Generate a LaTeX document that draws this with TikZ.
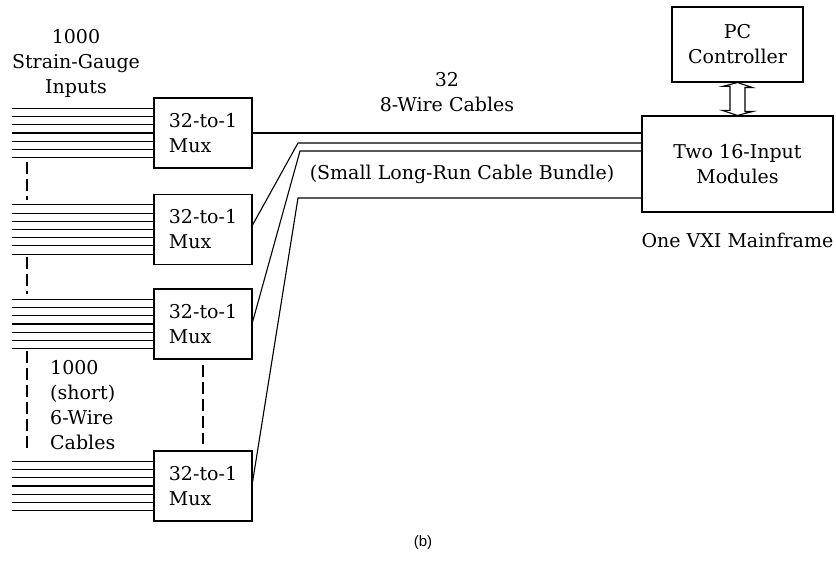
\documentclass[tikz,border=0pt]{standalone}
\usepackage{fontspec}
\setmainfont{DejaVu Serif}
\newfontfamily\capfont{Liberation Sans}
\usetikzlibrary{calc}

\tikzset{
  txt/.style={font=\fontsize{19}{25}\selectfont, inner sep=0pt},
  box/.style={draw, line width=1.1pt, inner sep=0pt, txt},
  muxbox/.style={box, minimum width=98pt, minimum height=70pt, align=left},
  wire/.style={line width=1.1pt},
  dashline/.style={line width=1.1pt, dash pattern=on 12pt off 5pt},
}

\begin{document}
\begin{tikzpicture}[x=1pt, y=-1pt]
\useasboundingbox (0,0) rectangle (836,564);

% multiplexers
\node[muxbox] (m1) at (203,133)   {32-to-1\\Mux};
\node[muxbox] (m2) at (203,229.5) {32-to-1\\Mux};
\node[muxbox] (m3) at (203,324)   {32-to-1\\Mux};
\node[muxbox] (m4) at (203,486)   {32-to-1\\Mux};

% mainframe and controller
\node[box, minimum width=191pt, minimum height=96pt, align=center] (mods) at (737.5,164) {Two 16-Input\\Modules};
\node[box, minimum width=131pt, minimum height=75pt, align=center] (pc) at (737.5,44.5) {PC\\Controller};
\node[txt] (vxi) at (737.5,240) {One VXI Mainframe};

% text labels
\node[txt, align=center] (sg) at (76,63) {1000\\Strain-Gauge\\Inputs};
\node[txt, align=left, anchor=west] (sh) at (50,405.5) {1000\\(short)\\6-Wire\\Cables};
\node[txt, align=center] (cb) at (447,92) {32\\8-Wire Cables};
\node[txt] (bund) at (462,174) {(Small Long-Run Cable Bundle)};
\node[font=\capfont\fontsize{15}{17}\selectfont, inner sep=0pt] (cap) at (423,543) {(b)};

% strain-gauge input wires, seven per mux
\foreach \m in {m1,m2,m3,m4}{
  \foreach \k in {-3,...,3}{
    \draw[wire] ($(\m.west)+(-141,8.2*\k)$) -- ($(\m.west)+(0,8.2*\k)$);
  }
}

% continuation marks
\draw[dashline] (27,162) -- (27,200);
\draw[dashline] (27,257) -- (27,294);
\draw[dashline] (27,351) -- (27,451);
\draw[dashline] (203,365) -- (203,444);

% long-run cable bundle
\coordinate (b2) at (298,143);
\coordinate (b3) at (300,151);
\coordinate (b4) at (298,198);
\draw[wire] (m1.east) -- (m1.east -| mods.west);
\draw[wire] ($(m2.east)+(0,-4.5)$) -- (b2) -- (b2 -| mods.west);
\draw[wire] ($(m3.east)+(0,-2)$) -- (b3) -- (b3 -| mods.west);
\draw[wire] ($(m4.east)+(0,-4)$) -- (b4) -- (b4 -| mods.west);

% hollow double arrow between controller and modules
\draw[wire, line join=miter] (pc.south) -- ++(15,5) -- ++(-7.5,0) -- ++(0,24) -- ++(7.5,0)
  -- (mods.north) -- ++(-15,-5) -- ++(7.5,0) -- ++(0,-24) -- ++(-7.5,0) -- cycle;
\end{tikzpicture}
\end{document}
